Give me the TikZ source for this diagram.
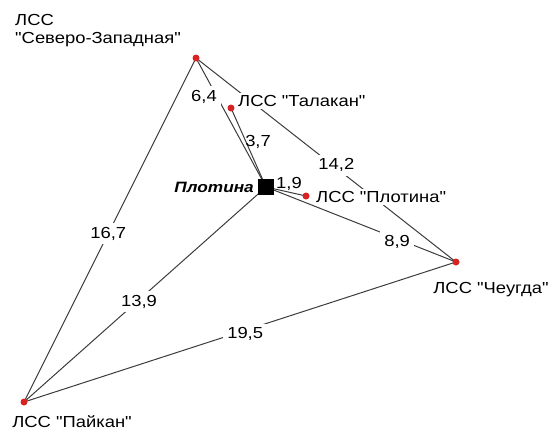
\documentclass[tikz,border=0pt]{standalone}
\usepackage{fontspec}
\setmainfont{Liberation Sans}[FakeStretch=1.15, Ligatures=TeXOff]
\usetikzlibrary{backgrounds}
\definecolor{sitered}{RGB}{215,35,35}
\definecolor{linkgray}{RGB}{60,60,60}
\begin{document}
\begin{tikzpicture}[x=1pt,y=-1pt,
  link/.style={draw=linkgray, line width=1pt},
  site/.style={circle, fill=sitered, inner sep=0pt, minimum size=7pt},
  dam/.style={rectangle, fill=black, inner sep=0pt, minimum size=16pt},
  txt/.style={font=\fontsize{16}{18}\selectfont, inner sep=2pt},
  sitename/.style={txt, fill=white},
  dist/.style={txt, fill=white, inner sep=4pt},
  distbare/.style={txt, inner sep=1pt}]
  \useasboundingbox (0,0) rectangle (556,439);

  % stations and the dam
  \node[site] (nw) at (196,58) {};
  \node[site] (tal) at (231,108) {};
  \node[dam]  (dam) at (266,187) {};
  \node[site] (pl) at (306,196) {};
  \node[site] (ch) at (456,262) {};
  \node[site] (pa) at (24,402) {};

  % links with distances
  \begin{scope}[on background layer]
    \draw[link] (nw.center) -- node[dist, pos=0.51] {16,7} (pa.center);
    \draw[link] (nw.center) -- node[dist, pos=0.54, yshift=3pt] {14,2} (ch.center);
    \draw[link] (nw.center) -- node[dist, pos=0.30, xshift=-13pt] {6,4} (dam.center);
    \draw[link] (tal.center) -- node[distbare, pos=0.43, xshift=12pt] {3,7} (dam.center);
    \draw[link] (dam.center) -- node[distbare, pos=0.575, yshift=8pt] {1,9} (pl.center);
    \draw[link] (dam.center) -- node[dist, pos=0.69, yshift=-3pt] {8,9} (ch.center);
    \draw[link] (dam.center) -- node[dist, pos=0.525, yshift=-2pt] {13,9} (pa.center);
    \draw[link] (pa.center) -- node[dist, pos=0.512, yshift=-4pt] {19,5} (ch.center);
  \end{scope}

  % station names
  \node[txt, anchor=north west, align=left] (nwname) at (13,12) {ЛСС\\"Северо-Западная"};
  \node[sitename, anchor=west] (talname) at (236,101) {ЛСС "Талакан"};
  \node[txt, anchor=east, font=\fontsize{15}{17}\selectfont\bfseries\itshape] (damname) at (256,187) {Плотина};
  \node[sitename, anchor=west] (plname) at (314,197) {ЛСС "Плотина"};
  \node[txt] (chname) at (491,290) {ЛСС "Чеугда"};
  \node[txt] (paname) at (72,422) {ЛСС "Пайкан"};
\end{tikzpicture}
\end{document}
